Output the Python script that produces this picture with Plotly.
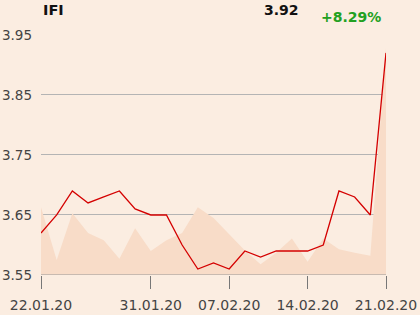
import plotly.graph_objects as go

dates = ["22.01.20","23.01.20","24.01.20","27.01.20","28.01.20","29.01.20","30.01.20","31.01.20",
         "03.02.20","04.02.20","05.02.20","06.02.20","07.02.20","10.02.20","11.02.20","12.02.20",
         "13.02.20","14.02.20","17.02.20","18.02.20","19.02.20","20.02.20","21.02.20"]
price = [3.62,3.65,3.69,3.67,3.68,3.69,3.66,3.65,3.65,3.60,3.56,3.57,3.56,3.59,3.58,3.59,
         3.59,3.59,3.60,3.69,3.68,3.65,3.92]
shade = [3.663,3.575,3.653,3.620,3.608,3.577,3.628,3.590,3.608,3.620,3.663,3.645,3.618,3.591,
         3.568,3.587,3.611,3.572,3.611,3.593,3.587,3.582,3.928]
tick_idx = [0,7,12,17,22]
tick_text = [dates[i] for i in tick_idx]
y_ticks = [3.55,3.65,3.75,3.85,3.95]

W, H = 420, 315
L, R, T, B = 41, 34, 34, 40
xs = list(range(len(dates)))

fig = go.Figure()
fig.add_trace(go.Scatter(x=xs, y=shade, mode="lines", line=dict(width=0, color="#F8DCC8"),
                         fill="tozeroy", fillcolor="#F8DCC8", hoverinfo="skip"))
fig.add_trace(go.Scatter(x=xs, y=price, mode="lines", line=dict(width=1.3, color="#D40000")))

fig.update_layout(
    width=W, height=H, margin=dict(l=L, r=R, t=T, b=B, autoexpand=False),
    paper_bgcolor="#FBEDE1", plot_bgcolor="#FBEDE1", showlegend=False,
    font=dict(family="DejaVu Sans", size=13, color="#444"),
    xaxis=dict(range=[0, 22], tickvals=tick_idx, ticktext=tick_text, showgrid=False,
               zeroline=False, showline=False, ticks="outside", ticklen=13, automargin=False,
               tickcolor="#777", tickwidth=1, ticklabelstandoff=4,
               tickfont=dict(size=14, color="#444")),
    yaxis=dict(range=[3.55, 3.9515], tickvals=y_ticks, ticktext=[f"{v:.2f}" for v in y_ticks],
               showgrid=True, gridcolor="#B4B4B4", gridwidth=1, zeroline=False, automargin=False,
               showline=False, ticks="", ticklabelstandoff=8,
               tickfont=dict(size=13.5, color="#444")),
)
fig.add_shape(type="line", xref="x", yref="y", x0=0, x1=22, y0=3.55, y1=3.55,
              line=dict(color="#999", width=1))
fig.add_annotation(xref="paper", yref="paper", x=0, y=1, xanchor="left", yanchor="middle",
                   yshift=(T - 10), text="<b>IFI</b>", showarrow=False,
                   font=dict(size=14.5, color="#111"))
fig.add_annotation(xref="paper", yref="paper", x=(281 - L) / (W - L - R), y=1,
                   xanchor="center", yanchor="middle", yshift=(T - 10), text="<b>3.92</b>",
                   showarrow=False, font=dict(size=14, color="#111"))
fig.add_annotation(xref="paper", yref="paper", x=(351 - L) / (W - L - R), y=1,
                   xanchor="center", yanchor="middle", yshift=(T - 17), text="<b>+8.29%</b>",
                   showarrow=False, font=dict(size=14, color="#22A022"))

fig.write_html("out.html")
